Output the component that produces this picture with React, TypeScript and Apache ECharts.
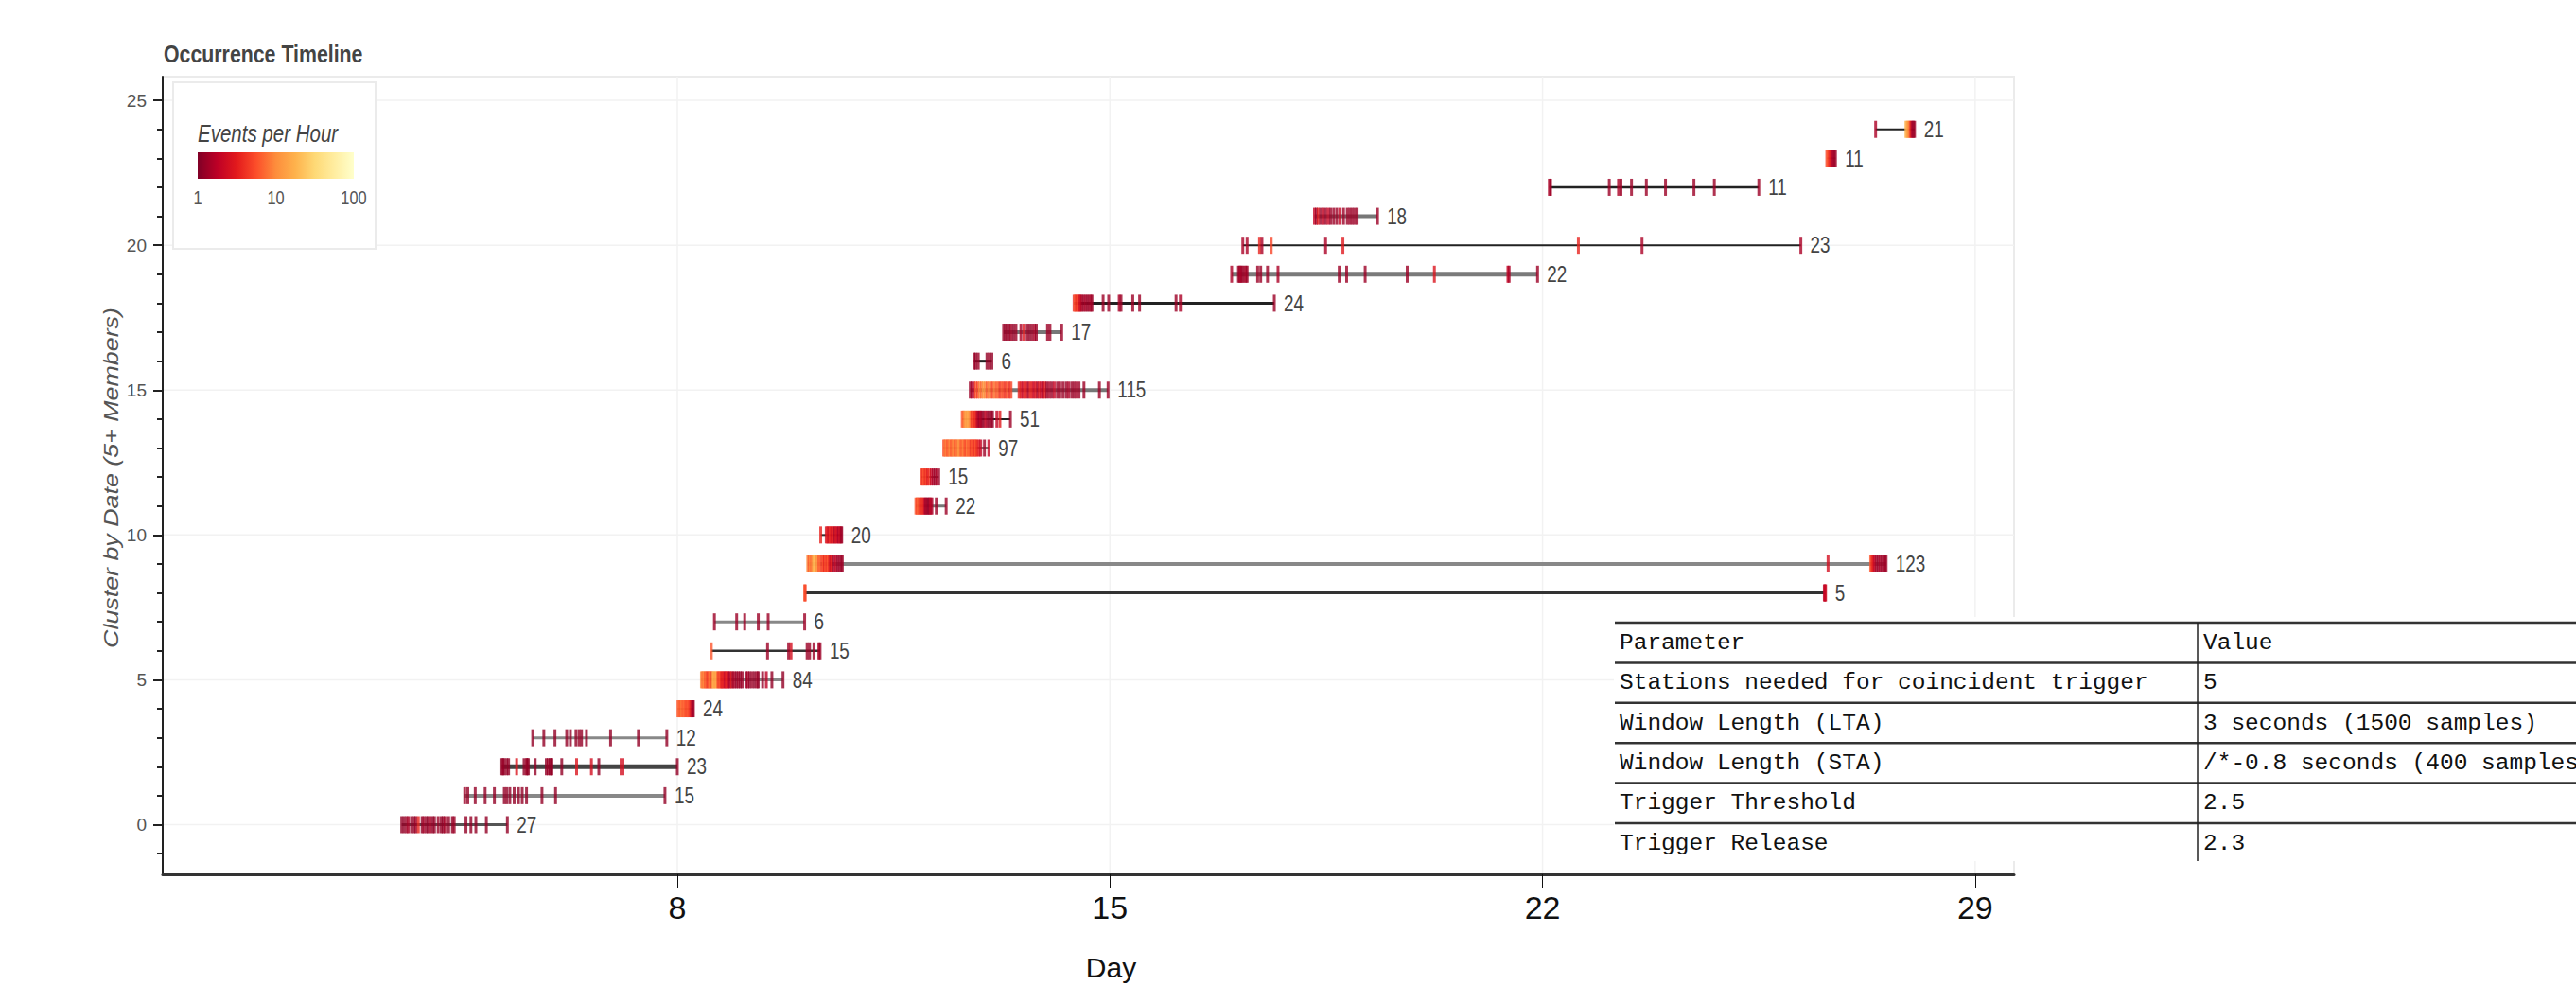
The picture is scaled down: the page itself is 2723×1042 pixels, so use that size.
import React, { useEffect, useRef } from 'react';
import * as echarts from 'echarts';

const SANS = '"Liberation Sans", Arial, sans-serif';
const MONO = '"Courier New", "Liberation Mono", monospace';
const NARROW_SCALE = 0.82;

// ---- data: each cluster row = [day, events per hour] for every visible event tick ----
const cluster0 = [[3.54,1.2],[3.58,1.2],[3.62,1.3],[3.65,1.5],[3.70,1.2],[3.74,1.2],[3.77,1.3],[3.81,3.5],[3.87,1.2],[3.90,1.4],[3.94,1.2],[3.97,1.2],[4.00,1.5],[4.04,1.2],[4.07,1.2],[4.13,1.3],[4.18,1.2],[4.21,1.2],[4.24,1.4],[4.30,1.2],[4.36,1.2],[4.39,1.3],[4.58,1.2],[4.66,1.2],[4.74,1.2],[4.91,1.2],[5.25,1.2]];
const cluster1 = [[4.56,1.3],[4.61,1.2],[4.73,1.2],[4.89,1.2],[5.04,1.2],[5.20,1.2],[5.24,1.2],[5.29,1.2],[5.36,1.2],[5.43,1.2],[5.49,1.2],[5.56,1.2],[5.81,1.2],[6.03,1.2],[7.80,1.2]];
const cluster2 = [[5.16,1.2],[5.18,1.3],[5.20,1.2],[5.24,1.2],[5.27,1.2],[5.40,2.8],[5.52,1.2],[5.56,1.4],[5.57,1.2],[5.59,1.2],[5.70,1.2],[5.88,1.2],[5.91,1.3],[5.94,1.2],[5.96,1.2],[5.97,1.2],[6.13,1.2],[6.37,2.8],[6.61,2.5],[6.73,1.2],[7.09,2.5],[7.12,2.5],[8.00,1.2]];
const cluster3 = [[5.66,1.2],[5.84,1.2],[6.02,1.2],[6.21,1.2],[6.27,1.2],[6.36,1.2],[6.41,1.3],[6.45,1.2],[6.53,1.2],[6.92,1.2],[7.37,1.2],[7.83,1.2]];
const cluster4 = [[8.01,6],[8.03,7],[8.05,6],[8.07,8],[8.09,6],[8.11,7],[8.13,6],[8.15,5],[8.17,6],[8.19,5],[8.21,4],[8.23,2],[8.25,1.5],[8.26,1.3]];
const cluster5 = [[8.39,10],[8.41,7],[8.43,10],[8.45,6],[8.47,7],[8.49,4],[8.51,6],[8.53,8],[8.55,4],[8.57,12],[8.59,16],[8.61,12],[8.63,15],[8.65,7],[8.67,4],[8.69,6],[8.71,3.5],[8.73,3],[8.75,3.5],[8.77,2],[8.79,3],[8.81,3.5],[8.83,2],[8.85,1.5],[8.88,3],[8.90,1.3],[8.93,1.5],[8.96,1.2],[8.99,1.4],[9.02,1.2],[9.05,1.3],[9.11,1.2],[9.14,1.5],[9.17,1.2],[9.21,1.3],[9.25,1.2],[9.29,1.4],[9.31,1.2],[9.38,1.2],[9.44,1.8],[9.53,1.2],[9.71,1.2]];
const cluster6 = [[8.55,6],[9.46,1.3],[9.80,1.3],[9.84,2.5],[10.10,1.3],[10.14,1.3],[10.21,1.3],[10.29,1.5],[10.31,1.3]];
const cluster7 = [[8.60,1.3],[8.96,1.3],[9.09,1.3],[9.31,1.3],[9.47,1.3],[10.06,1.3]];
const cluster8 = [[10.06,6],[10.07,5],[26.56,2],[26.57,1.8],[26.58,2.2]];
const cluster9 = [[10.11,10],[10.13,6],[10.15,10],[10.17,7],[10.19,11],[10.21,18],[10.23,20],[10.25,10],[10.27,12],[10.29,6],[10.31,7],[10.34,4],[10.36,6],[10.38,3.5],[10.40,6],[10.42,4],[10.44,6],[10.46,3.5],[10.48,2],[10.50,3.5],[10.53,1.4],[10.56,2],[10.59,1.3],[10.62,1.4],[10.65,1.3],[10.67,1.3],[26.62,2.5],[27.31,6],[27.33,4],[27.35,3],[27.37,2],[27.40,1.4],[27.43,1.3],[27.46,1.5],[27.49,1.3],[27.52,1.4],[27.54,1.3],[27.56,1.3]];
const cluster10 = [[10.32,3.5],[10.41,2.5],[10.43,3.5],[10.45,2],[10.47,4],[10.49,3],[10.51,2],[10.53,3.5],[10.55,1.5],[10.57,3],[10.59,2],[10.61,1.5],[10.63,2.5],[10.65,1.5],[10.66,1.3]];
const cluster11 = [[11.86,6],[11.88,5],[11.90,7],[11.92,4],[11.94,5],[11.96,3.5],[11.98,4],[12.00,2],[12.02,1.3],[12.04,1.5],[12.06,1.2],[12.08,1.3],[12.10,2],[12.12,1.5],[12.19,1.3],[12.35,1.3]];
const cluster12 = [[11.95,5],[11.97,4],[11.99,6],[12.01,3.5],[12.03,5],[12.05,3],[12.08,4],[12.11,2],[12.14,1.5],[12.17,1.3],[12.20,1.5],[12.23,1.3]];
const cluster13 = [[12.31,6],[12.33,7],[12.35,9],[12.37,6],[12.39,7],[12.41,10],[12.43,6],[12.45,7],[12.47,11],[12.49,6],[12.51,9],[12.53,7],[12.55,12],[12.57,10],[12.59,6],[12.61,7],[12.63,9],[12.65,6],[12.67,5],[12.69,9],[12.71,6],[12.73,7],[12.75,4],[12.77,6],[12.79,5],[12.81,4],[12.83,6],[12.85,3.5],[12.88,3],[12.91,2],[12.97,1.3],[13.04,2]];
const cluster14 = [[12.61,6],[12.63,7],[12.65,10],[12.67,14],[12.69,12],[12.71,15],[12.73,11],[12.75,7],[12.77,4],[12.79,6],[12.81,3.5],[12.83,4],[12.85,2],[12.87,1.5],[12.89,1.3],[12.91,1.8],[12.93,1.3],[12.96,1.2],[12.99,2],[13.02,1.3],[13.05,1.2],[13.08,1.3],[13.10,1.2],[13.17,2],[13.22,3],[13.39,1.3]];
const cluster15 = [[12.74,1.3],[12.77,1.5],[12.80,2],[12.83,6],[12.86,5],[12.89,9],[12.92,7],[12.95,11],[12.98,10],[13.01,6],[13.04,9],[13.07,7],[13.10,5],[13.13,9],[13.16,6],[13.19,7],[13.22,4],[13.25,6],[13.28,5],[13.31,4],[13.34,6],[13.37,3.5],[13.40,5],[13.53,3.5],[13.56,3],[13.59,2],[13.62,3.5],[13.65,3],[13.68,1.5],[13.71,3.5],[13.74,3],[13.77,2],[13.80,3],[13.83,1.5],[13.86,3],[13.89,2],[13.92,1.5],[13.95,3],[13.98,1.3],[14.02,1.5],[14.06,1.3],[14.10,2],[14.15,1.3],[14.19,1.4],[14.24,1.3],[14.29,1.3],[14.33,1.5],[14.38,1.3],[14.42,1.3],[14.46,1.4],[14.50,1.3],[14.58,1.3],[14.83,1.3],[14.97,1.3]];
const cluster16 = [[12.80,1.3],[12.83,1.2],[12.87,1.3],[13.01,1.2],[13.05,1.3],[13.09,1.2]];
const cluster17 = [[13.28,1.3],[13.31,1.2],[13.34,1.3],[13.37,1.2],[13.40,1.4],[13.44,1.2],[13.48,1.3],[13.56,1.5],[13.61,3],[13.66,1.3],[13.70,1.2],[13.74,1.3],[13.78,1.5],[13.81,1.3],[13.99,1.3],[14.03,1.3],[14.22,1.3]];
const cluster18 = [[14.42,4],[14.44,6],[14.46,3.5],[14.48,5],[14.50,2],[14.52,3],[14.54,1.5],[14.57,1.3],[14.60,1.5],[14.63,1.3],[14.66,1.3],[14.69,1.5],[14.71,1.3],[14.89,1.3],[14.98,1.3],[15.15,1.5],[15.18,1.3],[15.37,1.3],[15.48,1.3],[16.07,1.3],[16.14,1.5],[17.66,1.3]];
const cluster19 = [[16.97,1.5],[17.08,1.3],[17.10,1.3],[17.12,1.5],[17.14,1.3],[17.17,1.3],[17.20,1.5],[17.22,1.3],[17.39,1.3],[17.44,1.3],[17.55,1.3],[17.72,1.5],[18.71,1.3],[18.83,1.3],[19.13,1.3],[19.81,1.3],[20.25,2.8],[21.44,2],[21.46,1.5],[21.92,1.3]];
const cluster20 = [[17.15,1.5],[17.22,1.5],[17.42,3.5],[17.46,1.5],[17.61,5],[18.49,1.5],[18.77,3],[22.58,3.5],[23.61,1.5],[26.18,1.5]];
const cluster21 = [[18.31,2],[18.34,1.3],[18.37,3],[18.41,1.3],[18.45,2],[18.49,1.3],[18.53,2],[18.57,1.3],[18.62,1.3],[18.67,1.3],[18.72,2],[18.78,1.3],[18.84,1.3],[18.88,1.3],[18.92,1.3],[18.96,1.3],[19.00,1.3],[19.33,1.3]];
const cluster22 = [[22.11,1.5],[22.13,1.3],[23.08,1.3],[23.23,1.5],[23.27,1.3],[23.44,1.3],[23.68,1.3],[23.99,1.3],[24.45,1.3],[24.78,1.3],[25.50,1.3]];
const cluster23 = [[26.60,5],[26.62,6],[26.64,4],[26.66,3],[26.68,2],[26.70,1.5],[26.72,1.3],[26.74,1.3]];
const cluster24 = [[27.39,1.5],[27.88,18],[27.90,15],[27.92,10],[27.94,8],[27.96,3],[27.98,1.5],[28.00,1.3],[28.02,1.3]];

const clusters = [cluster0, cluster1, cluster2, cluster3, cluster4, cluster5, cluster6, cluster7, cluster8, cluster9, cluster10, cluster11, cluster12, cluster13, cluster14, cluster15, cluster16, cluster17, cluster18, cluster19, cluster20, cluster21, cluster22, cluster23, cluster24];
const memberCounts = [27, 15, 23, 12, 24, 84, 15, 6, 5, 123, 20, 22, 15, 97, 51, 115, 6, 17, 24, 22, 23, 18, 11, 11, 21];

const dayTicks = [8, 15, 22, 29];
const clusterTicks = [0, 5, 10, 15, 20, 25];
const clusterMinorTicks = [-1, 0, 1, 2, 3, 4, 5, 6, 7, 8, 9, 10, 11, 12, 13, 14, 15, 16, 17, 18, 19, 20, 21, 22, 23, 24, 25];
const colorbarTicks = [1, 10, 100];

const tableHeader = ['Parameter', 'Value'];
const tableParams = ['Stations needed for coincident trigger', 'Window Length (LTA)', 'Window Length (STA)', 'Trigger Threshold', 'Trigger Release'];
const tableValues = ['5', '3 seconds (1500 samples)', '/*-0.8 seconds (400 samples)', '2.5', '2.3'];

// ---- styles ----
const rowLineStyles = [
  { c: '#555', w: 3 }, { c: '#888', w: 4 }, { c: '#444', w: 5 }, { c: '#888', w: 3 }, { c: '#555', w: 2 },
  { c: '#888', w: 3 }, { c: '#333', w: 2.5 }, { c: '#888', w: 3 }, { c: '#333', w: 3 }, { c: '#888', w: 4 },
  { c: '#333', w: 2 }, { c: '#777', w: 3 }, { c: '#555', w: 2 }, { c: '#777', w: 3 }, { c: '#222', w: 2 },
  { c: '#777', w: 4 }, { c: '#222', w: 3 }, { c: '#777', w: 4 }, { c: '#222', w: 3 }, { c: '#7a7a7a', w: 5 },
  { c: '#222', w: 2 }, { c: '#777', w: 4 }, { c: '#222', w: 2.5 }, { c: '#555', w: 2 }, { c: '#222', w: 2 },
];

const YLORRD = ['#800026', '#bd0026', '#e31a1c', '#fc4e2a', '#fd8d3c', '#feb24c', '#fed976', '#ffeda0', '#ffffcc'];
function hexToRgb(h: string) {
  return [parseInt(h.slice(1, 3), 16), parseInt(h.slice(3, 5), 16), parseInt(h.slice(5, 7), 16)];
}
function rateColor(rate: number) {
  const t = Math.min(1, Math.max(0, Math.log10(rate) / 2)) * (YLORRD.length - 1);
  const i = Math.min(YLORRD.length - 2, Math.floor(t));
  const f = t - i;
  const a = hexToRgb(YLORRD[i]);
  const b = hexToRgb(YLORRD[i + 1]);
  const c = a.map((v, k) => Math.round(v + (b[k] - v) * f));
  return `rgb(${c[0]},${c[1]},${c[2]})`;
}

const X_MIN = -0.327;
const X_MAX = 29.63;
const Y_MIN = -1.715;
const Y_MAX = 25.82;

export default function App() {
  const ref = useRef<HTMLDivElement>(null);
  useEffect(() => {
    document.body.style.margin = '0';
    const chart = echarts.init(ref.current as HTMLDivElement, null, { renderer: 'svg' });

    const tickData: any[] = [];
    clusters.forEach((events, row) => {
      events.forEach(([d, r]) => {
        tickData.push({ value: [d, row], itemStyle: { color: rateColor(r) } });
      });
    });
    const spanData = clusters.map((events, row) => {
      const days = events.map((e) => e[0]);
      return [Math.min(...days), Math.max(...days), row];
    });
    const countData = clusters.map((events, row) => {
      const days = events.map((e) => e[0]);
      return [Math.max(...days), row, memberCounts[row]];
    });
    const gridData = [...dayTicks.map((d) => [0, d]), ...clusterTicks.map((v) => [1, v])];

    const barX = 209, barY = 161, barW = 165, barH = 28;
    const graphics: any[] = [
      // title
      { type: 'text', z: 101, x: 173, y: 57, scaleX: NARROW_SCALE, style: { text: 'Occurrence Timeline', fontFamily: SANS, fontSize: 26, fontWeight: 'bold', fill: '#444', align: 'left', verticalAlign: 'middle' } },
      // y axis title
      { type: 'text', z: 101, x: 117, y: 505, rotation: Math.PI / 2, scaleX: 1.22, style: { text: 'Cluster by Date (5+ Members)', fontFamily: SANS, fontSize: 22, fontStyle: 'italic', fill: '#555', align: 'center', verticalAlign: 'middle' } },
      // legend box
      { type: 'rect', z: 100, shape: { x: 183, y: 87, width: 214, height: 176 }, style: { fill: '#fff', stroke: '#ebebeb', lineWidth: 2 } },
      { type: 'text', z: 101, x: 209, y: 141, scaleX: NARROW_SCALE, style: { text: 'Events per Hour', fontFamily: SANS, fontSize: 25, fontStyle: 'italic', fill: '#444', align: 'left', verticalAlign: 'middle' } },
      {
        type: 'rect', z: 101, shape: { x: barX, y: barY, width: barW, height: barH },
        style: { fill: new echarts.graphic.LinearGradient(0, 0, 1, 0, YLORRD.map((c, i) => ({ offset: i / (YLORRD.length - 1), color: c }))) },
      },
      ...colorbarTicks.map((v) => ({
        type: 'text', z: 101, x: barX + (Math.log10(v) / 2) * barW, y: 209, scaleX: NARROW_SCALE,
        style: { text: String(v), fontFamily: SANS, fontSize: 20, fill: '#555', align: 'center', verticalAlign: 'middle' },
      })),
    ];

    // parameter table
    const tX = 1707, tTop = 658, rowH = 42.4, divX = 2323;
    const rows = [tableHeader, ...tableParams.map((p, i) => [p, tableValues[i]])];
    graphics.push({ type: 'rect', z: 100, shape: { x: 1706, y: 652, width: 1017, height: 258 }, style: { fill: '#fff' } });
    rows.forEach((r, i) => {
      graphics.push({ type: 'line', z: 101, shape: { x1: tX, y1: tTop + i * rowH, x2: 2723, y2: tTop + i * rowH }, style: { stroke: '#333', lineWidth: 2.5 } });
      graphics.push({ type: 'text', z: 102, x: tX + 5, y: tTop + (i + 0.5) * rowH, style: { text: r[0], fontFamily: MONO, fontSize: 24.5, fill: '#111', align: 'left', verticalAlign: 'middle' } });
      graphics.push({ type: 'text', z: 102, x: divX + 6, y: tTop + (i + 0.5) * rowH, style: { text: r[1], fontFamily: MONO, fontSize: 24.5, fill: '#111', align: 'left', verticalAlign: 'middle' } });
    });
    graphics.push({ type: 'line', z: 101, shape: { x1: divX, y1: tTop, x2: divX, y2: 910 }, style: { stroke: '#222', lineWidth: 1.5 } });

    const option: any = {
      animation: false,
      backgroundColor: '#fff',
      grid: { left: 172, top: 81, width: 1957, height: 851, show: true, borderColor: '#ebebeb', borderWidth: 2, containLabel: false },
      xAxis: {
        type: 'value', min: X_MIN, max: X_MAX,
        axisLine: { onZero: false, lineStyle: { color: '#333', width: 3 } },
        axisTick: { show: true, customValues: dayTicks, length: 14, lineStyle: { color: '#111', width: 1 } },
        axisLabel: { customValues: dayTicks, margin: 18, fontSize: 34, fontFamily: SANS, color: '#111' },
        splitLine: { show: false },
        name: 'Day', nameLocation: 'middle', nameGap: 83,
        nameTextStyle: { fontSize: 30, fontFamily: SANS, color: '#111', padding: [0, 0, 0, 48] },
      },
      yAxis: [
        {
          type: 'value', min: Y_MIN, max: Y_MAX, position: 'left',
          axisLine: { show: true, onZero: false, lineStyle: { color: '#222', width: 2 } },
          axisTick: { show: true, customValues: clusterTicks, length: 10, lineStyle: { color: '#222', width: 2 } },
          axisLabel: { customValues: clusterTicks, margin: 17, fontFamily: SANS, fontSize: 19, color: '#555' },
          splitLine: { show: false },
        },
        {
          type: 'value', min: Y_MIN, max: Y_MAX, position: 'left',
          axisLine: { show: false, onZero: false },
          axisTick: { show: true, customValues: clusterMinorTicks, length: 6, lineStyle: { color: '#222', width: 2 } },
          axisLabel: { show: false },
          splitLine: { show: false },
        },
      ],
      series: [
        {
          // light grid lines at the labelled days / cluster numbers
          type: 'custom', z: 0, silent: true, data: gridData,
          renderItem: (params: any, api: any) => {
            const cs = params.coordSys;
            if (api.value(0) === 0) {
              const p = api.coord([api.value(1), 0]);
              return { type: 'line', shape: { x1: p[0], y1: cs.y, x2: p[0], y2: cs.y + cs.height }, style: { stroke: '#f2f2f2', lineWidth: 1.5 } };
            }
            const p = api.coord([0, api.value(1)]);
            return { type: 'line', shape: { x1: cs.x, y1: p[1], x2: cs.x + cs.width, y2: p[1] }, style: { stroke: '#f2f2f2', lineWidth: 1.5 } };
          },
        },
        {
          type: 'custom', z: 1, silent: true, data: spanData,
          renderItem: (params: any, api: any) => {
            const s = api.coord([api.value(0), api.value(2)]);
            const e = api.coord([api.value(1), api.value(2)]);
            const st = rowLineStyles[params.dataIndex];
            return { type: 'line', shape: { x1: s[0], y1: s[1], x2: e[0], y2: e[1] }, style: { stroke: st.c, lineWidth: st.w } };
          },
        },
        {
          type: 'scatter', z: 2, silent: true, symbol: 'rect', symbolSize: [3, 18], data: tickData,
        },
        {
          type: 'custom', z: 3, silent: true, data: countData,
          renderItem: (params: any, api: any) => {
            const p = api.coord([api.value(0), api.value(1)]);
            return {
              type: 'text', x: p[0] + 10, y: p[1], scaleX: NARROW_SCALE,
              style: { text: String(api.value(2)), fontFamily: SANS, fontSize: 23, fill: '#444', align: 'left', verticalAlign: 'middle' },
            };
          },
        },
      ],
      graphic: graphics,
    };
    chart.setOption(option);
    return () => chart.dispose();
  }, []);
  return <div ref={ref} style={{ width: 2723, height: 1042 }} />;
}
